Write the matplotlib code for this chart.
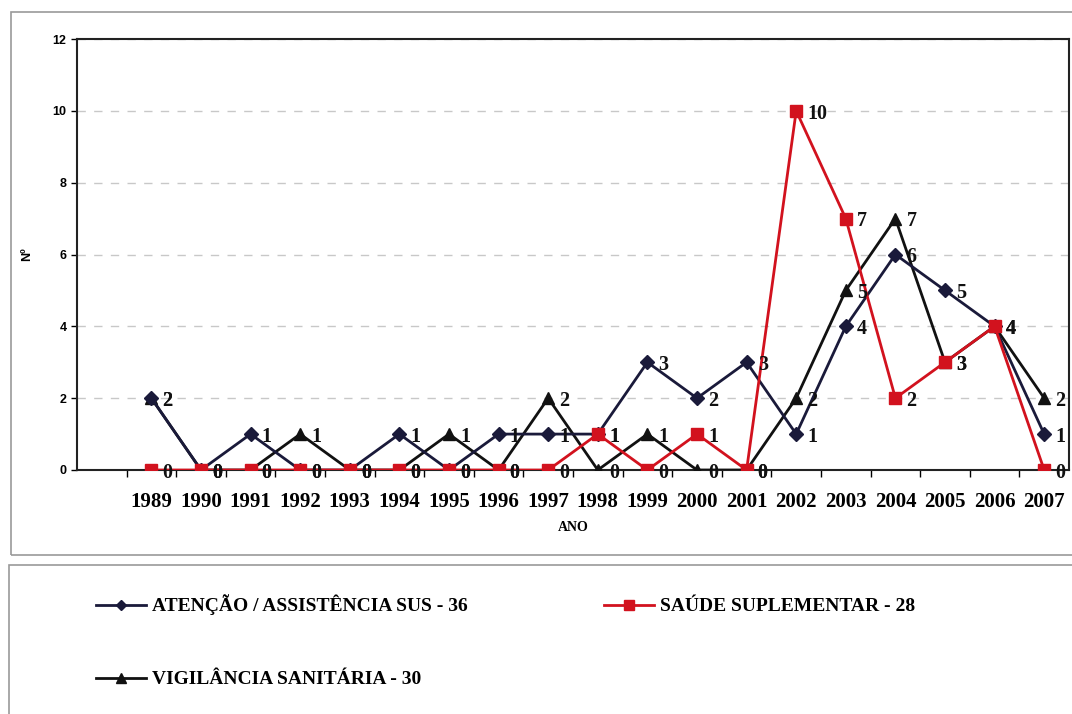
import matplotlib.pyplot as plt
from matplotlib.patches import Rectangle

years = list(range(1989, 2008))
sus = [2, 0, 1, 0, 0, 1, 0, 1, 1, 1, 3, 2, 3, 1, 4, 6, 5, 4, 1]
suplementar = [0, 0, 0, 0, 0, 0, 0, 0, 0, 1, 0, 1, 0, 10, 7, 2, 3, 4, 0]
vigilancia = [2, 0, 0, 1, 0, 0, 1, 0, 2, 0, 1, 0, 0, 2, 5, 7, 3, 4, 2]

labels = ['ATENÇÃO / ASSISTÊNCIA SUS - 36', 'SAÚDE SUPLEMENTAR - 28', 'VIGILÂNCIA SANITÁRIA - 30']

serif = 'Liberation Serif'
sans = 'Liberation Sans'

fig = plt.figure(figsize=(10.72, 7.14), dpi=100)
W, H = 1072, 714

# outer frames (chart area and legend area)
fig.patches.append(Rectangle((11 / W, 1 - 555 / H), 1.2, 543 / H, transform=fig.transFigure,
                             fill=False, edgecolor='#9a9a9a', linewidth=1.2))
fig.patches.append(Rectangle((9 / W, -0.1), 1.2, (0.1 + 1 - 565 / H), transform=fig.transFigure,
                             fill=False, edgecolor='#9a9a9a', linewidth=1.2))

ax = fig.add_axes([77 / W, 1 - 470 / H, (1069 - 77) / W, (470 - 39) / H])

# series: vigilância, sus, suplementar
l_vig, = ax.plot(years, vigilancia, color='#111111', marker='^', markersize=9, linewidth=2, zorder=3)
l_sus, = ax.plot(years, sus, color='#1a1a3a', marker='D', markersize=7, linewidth=2, zorder=4)
l_sup, = ax.plot(years, suplementar, color='#d2121e', marker='s', markersize=9, linewidth=2, zorder=5)

# data labels
for series in (vigilancia, sus, suplementar):
    for x, y in zip(years, series):
        ax.annotate(str(y), (x, y), xytext=(8, -2), textcoords='offset points',
                    ha='left', va='center', fontsize=14.5, fontweight='bold',
                    family=serif, color='#111111', zorder=6)

ax.set_xlim(1987.5, 2007.5)
ax.set_ylim(0, 12)
ax.set_yticks(range(0, 13, 2))
ax.set_xticks(years)
ax.set_xticks([y + 0.5 for y in range(1988, 2007)], minor=True)
ax.tick_params(axis='x', which='major', length=0, pad=16)
ax.tick_params(axis='x', which='minor', length=5, direction='out', width=1)
ax.tick_params(axis='y', length=4, direction='out', width=1)
for t in ax.get_xticklabels():
    t.set_fontfamily(serif)
    t.set_fontweight('bold')
    t.set_fontsize(15)
for t in ax.get_yticklabels():
    t.set_fontfamily(sans)
    t.set_fontweight('bold')
    t.set_fontsize(9)

ax.yaxis.grid(True, linestyle=(0, (6, 6)), color='#c8c8c8', linewidth=1)
ax.set_axisbelow(True)
for s in ax.spines.values():
    s.set_color('#222222')
    s.set_linewidth(1.5)

ax.set_xlabel('ANO', fontsize=10, fontweight='bold', family=serif, labelpad=6)
ax.set_ylabel('Nº', fontsize=9, fontweight='bold', family=sans, labelpad=14)

leg = fig.legend([l_sus, l_vig, l_sup], [labels[0], labels[2], labels[1]], ncol=2,
                 loc='upper left', bbox_to_anchor=(78 / W, 1 - 577 / H), frameon=False,
                 prop={'family': serif, 'weight': 'bold', 'size': 14}, markerscale=0.8,
                 handlelength=2.6, handletextpad=0.3, labelspacing=2.85, columnspacing=7.0)

fig.savefig('out.png', dpi=100)
